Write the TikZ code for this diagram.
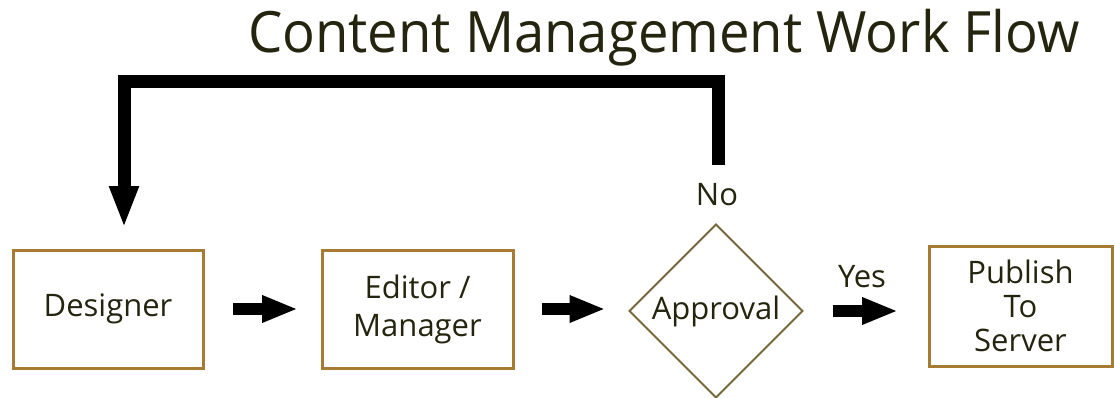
\documentclass[tikz,border=0pt]{standalone}
\usepackage{fontspec}
\setmainfont{Open Sans}
\usetikzlibrary{arrows.meta,shapes.geometric}
\definecolor{boxline}{HTML}{A67C34}
\definecolor{dmdline}{HTML}{75683A}
\definecolor{txt}{HTML}{24240F}
\begin{document}
\begin{tikzpicture}[x=1pt,y=-1pt,
  every node/.style={text=txt, font=\fontsize{31}{36}\selectfont, outer sep=0pt},
  procbox/.style={draw=boxline, line width=3pt, rectangle, align=center, inner sep=0pt},
  decision/.style={draw=dmdline, line width=2pt, diamond, aspect=1, inner sep=0pt},
  flowarrow/.style={line width=12pt, -{Triangle[length=36pt,width=25pt]}},
  backarrow/.style={line width=13pt, -{Triangle[length=42pt,width=27pt]}}]
\useasboundingbox (0,0) rectangle (1115,398);
\fill[white] (0,0) rectangle (1115,398);
\node[anchor=base west, inner sep=0pt] (title) at (248,53)
  {\scalebox{0.955}[1]{\fontsize{57}{60}\selectfont Content Management Work Flow}};
\node[procbox, minimum width=190pt, minimum height=118pt] (designer) at (108,309) {Designer};
\node[procbox, minimum width=191pt, minimum height=118pt, font=\fontsize{31}{38}\selectfont] (editor) at (417.5,309) {Editor /\\Manager};
\node[decision, minimum size=173pt] (approval) at (716,311) {\raisebox{-4pt}{Approval}};
\node[procbox, minimum width=183pt, minimum height=120pt, font=\fontsize{31}{34}\selectfont] (publish) at (1020.5,306) {Publish\\To\\Server};
\node (no) at (717,195) {No};
\node (yes) at (862,277) {Yes};
\coordinate (fbtop) at (718,165);
\coordinate (fbcorner) at (124,82);
\draw[flowarrow, shorten <=30pt, shorten >=24pt] (designer.east) -- (editor.west);
\draw[flowarrow, shorten <=29pt, shorten >=24pt] (editor.east) -- (editor.east -| approval.west);
\draw[flowarrow, shorten <=30pt, shorten >=31pt] (approval.east) -- (approval.east -| publish.west);
\draw[backarrow, shorten >=22pt] (fbtop) |- (fbcorner) -- (fbcorner |- designer.north);
\end{tikzpicture}
\end{document}
